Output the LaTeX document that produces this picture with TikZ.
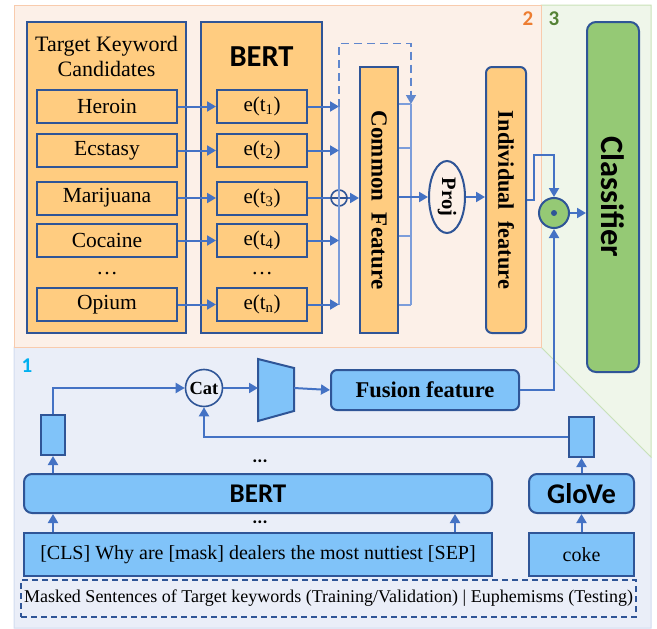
\documentclass[tikz,border=0pt]{standalone}
\usepackage{fontspec}
\setmainfont{Liberation Serif}
\newfontfamily\calibri{Carlito}
\usepackage{tikz}
\usetikzlibrary{calc}
\usetikzlibrary{arrows.meta, shapes}
\usetikzlibrary{positioning}

\definecolor{lineblue}{HTML}{4472C4}
\definecolor{darkblue}{HTML}{2F5597}
\definecolor{thinblue}{HTML}{7C9DDA}
\definecolor{boxorange}{HTML}{FFCC80}
\definecolor{boxblue}{HTML}{80C3F9}
\definecolor{boxgreen}{HTML}{95C975}
\definecolor{bgorange}{HTML}{FCF0E8}
\definecolor{edgeorange}{HTML}{F8CBAD}
\definecolor{bggreen}{HTML}{EFF6EA}
\definecolor{edgegreen}{HTML}{C9E2B8}
\definecolor{bgblue}{HTML}{EAEEF8}
\definecolor{edgeblue}{HTML}{D2DCF0}
\definecolor{numorange}{HTML}{ED7D31}
\definecolor{numgreen}{HTML}{548235}
\definecolor{numcyan}{HTML}{00B0F0}

\begin{document}
\begin{tikzpicture}[x=1pt, y=-1pt,
    every node/.style={font=\fontsize{21.5}{26}\selectfont, inner sep=0pt},
    obox/.style={draw=darkblue, line width=2pt, fill=boxorange},
    bbox/.style={draw=darkblue, line width=2pt, fill=boxblue},
    gbox/.style={draw=darkblue, line width=2pt, fill=boxgreen},
    arr/.style={draw=lineblue, line width=2pt, -{Triangle[length=9pt, width=10pt]}},
    plain/.style={draw=lineblue, line width=2pt},
    feed/.style={draw=thinblue, line width=1.3pt},
    sans/.style={font=\fontsize{#1}{#1}\selectfont\calibri\bfseries}]
    \def\kwx{107}; % keyword column x coordinate
    \def\embx{262}; % embedding column x coordinate
    \def\colx{339}; % collector line x coordinate
    \def\stubx{411}; % common feature stub x coordinate

    \useasboundingbox (0,0) rectangle (657,629);

    % regions %%%%%%%%%%%%%%%%%%%%%%%%%%%%%%%%%%%%%%%%%%%%%%%%%%%%%%%%%%%%%%%%%%%%%%%%%%%%%%%%%%%%%
    \filldraw[fill=bgblue, draw=edgeblue, line width=1pt] (14,347) -- (541,347) -- (651,457) -- (651,628) -- (14,628) -- cycle;
    \filldraw[fill=bggreen, draw=edgegreen, line width=1pt] (541,5) -- (651,5) -- (651,457) -- (541,347) -- cycle;
    \filldraw[fill=bgorange, draw=edgeorange, line width=1pt] (14,5) rectangle (541,347);
    \node[sans=21, text=numorange] (lab2) at (528,19) {2};
    \node[sans=21, text=numgreen] (lab3) at (554,19) {3};
    \node[sans=21, text=numcyan] (lab1) at (27,366) {1};

    % keyword candidates and top BERT %%%%%%%%%%%%%%%%%%%%%%%%%%%%%%%%%%%%%%%%%%%%%%%%%%%%%%%%%%%%%
    \node[obox, minimum width=159, minimum height=311] (tkc) at (106.5,177.5) {};
    \node[align=center, font=\fontsize{22}{25}\selectfont] (tkctitle) at (106.5,56) {Target Keyword\\Candidates};
    \node[obox, minimum width=121, minimum height=311] (bertt) at (261.5,177.5) {};
    \node[sans=30.5] (berttlabel) at (261.5,57) {BERT};
    \foreach \i/\y/\word/\sub in {1/106.5/Heroin/1, 2/150.5/Ecstasy/2, 3/198/Marijuana/3, 4/240.5/Cocaine/4, 5/304.5/Opium/n}{
      \node[obox, minimum width=140, minimum height=33] (kw\i) at (\kwx,\y) {\word};
      \node[obox, minimum width=90, minimum height=33, font=\fontsize{21}{21}\selectfont] (emb\i) at (\embx,\y) {e(t\textsubscript{\sub})};
      \draw[arr] (kw\i) -- (emb\i);
      \coordinate (col\i) at (\colx,\y);
    }
    \node (kwdots) at (\kwx,274) {\dots};
    \node (embdots) at (\embx,274) {\dots};

    % common feature %%%%%%%%%%%%%%%%%%%%%%%%%%%%%%%%%%%%%%%%%%%%%%%%%%%%%%%%%%%%%%%%%%%%%%%%%%%%%%
    \node[draw=darkblue, line width=1.6pt, circle, minimum size=16] (oplus) at (\colx,198) {};
    \draw[darkblue, line width=1.6pt] (oplus.north) -- (oplus.south) (oplus.west) -- (oplus.east);
    \draw[feed] (col1) -- (col5);
    \foreach \i in {1,2,4,5}{
      \draw[arr] (emb\i) -- (col\i);
    }
    \draw[plain] (emb3) -- (oplus);
    \node[obox, minimum width=38, minimum height=266] (comm) at (379,200) {};
    \node[rotate=-90, font=\fontsize{23}{23}\selectfont\bfseries] (commlabel) at (comm) {Common~~Feature};
    \draw[arr] (oplus) -- (oplus -| comm.west);
    \foreach \i/\y in {1/104, 2/148, 3/236, 4/305}{
      \coordinate (st\i) at (\stubx,\y);
      \draw[feed] (comm.east |- st\i) -- (st\i);
    }
    \draw[feed] (st1) -- (st4);
    \draw[arr, dash pattern=on 8pt off 5pt, draw=lineblue!85, line width=1.6pt] (col1) -- ++(0,-63) -| (st1);

    % projection and individual feature %%%%%%%%%%%%%%%%%%%%%%%%%%%%%%%%%%%%%%%%%%%%%%%%%%%%%%%%%%%
    \node[draw=darkblue, line width=2pt, fill=bgorange, ellipse, minimum width=36, minimum height=72] (proj) at (447,197) {};
    \node[rotate=-90, font=\fontsize{20.5}{20.5}\selectfont\bfseries] (projlabel) at (proj) {Proj};
    \draw[arr] (comm.east |- proj) -- (proj);
    \node[obox, rounded corners=6, minimum width=40, minimum height=266] (indiv) at (506,200) {};
    \node[rotate=-90, font=\fontsize{22.3}{22.3}\selectfont\bfseries] (indivlabel) at (indiv) {Individual~~feature};
    \draw[arr] (proj) -- (proj -| indiv.west);

    % classifier %%%%%%%%%%%%%%%%%%%%%%%%%%%%%%%%%%%%%%%%%%%%%%%%%%%%%%%%%%%%%%%%%%%%%%%%%%%%%%%%%%
    \node[gbox, circle, minimum size=30] (odot) at (554,213) {};
    \fill[darkblue] (odot) circle (3);
    \node[gbox, rounded corners=9, minimum width=52, minimum height=350] (cls) at (613,197) {};
    \node[rotate=-90, sans=32.5] (clslabel) at (cls) {Classifier};
    \draw[arr] (indiv.east) -- ++(7,0) -- ++(0,-45) -| (odot.north);
    \draw[arr] (odot) -- (odot -| cls.west);

    % fusion branch %%%%%%%%%%%%%%%%%%%%%%%%%%%%%%%%%%%%%%%%%%%%%%%%%%%%%%%%%%%%%%%%%%%%%%%%%%%%%%%
    \node[draw=darkblue, line width=1.6pt, circle, minimum size=37, font=\fontsize{18.5}{18.5}\selectfont\bfseries] (cat) at (204,388) {Cat};
    \filldraw[fill=boxblue, draw=darkblue, line width=2pt] (258,359) -- (294,368) -- (294,411) -- (258,421) -- cycle;
    \coordinate (trapin) at (258,388);
    \coordinate (trapout) at (294,388);
    \node[bbox, rounded corners=6, minimum width=188, minimum height=40, font=\fontsize{22.5}{22.5}\selectfont\bfseries] (fusion) at (425,390) {Fusion feature};
    \node[bbox, minimum width=24, minimum height=40] (vcls) at (53,435) {};
    \node[bbox, minimum width=25, minimum height=40] (vglove) at (581.5,437) {};
    \draw[arr] (vcls.north) |- (cat.west);
    \draw[arr] (vglove.west) -| (cat.south);
    \draw[arr] (cat.east) -- (trapin);
    \draw[arr] (trapout) -- (fusion.west);
    \draw[arr] (fusion.east) -| (odot.south);

    % encoders %%%%%%%%%%%%%%%%%%%%%%%%%%%%%%%%%%%%%%%%%%%%%%%%%%%%%%%%%%%%%%%%%%%%%%%%%%%%%%%%%%%%
    \node[bbox, rounded corners=8, minimum width=468, minimum height=39, sans=27] (bertb) at (258,493.5) {BERT};
    \node[bbox, minimum width=468, minimum height=43, font=\fontsize{20}{20}\selectfont] (sent) at (258,554.5) {[CLS] Why are [mask] dealers the most nuttiest [SEP]};
    \node[bbox, rounded corners=8, minimum width=105, minimum height=39, sans=28.5] (glove) at (581.5,493.5) {GloVe};
    \node[bbox, minimum width=105, minimum height=43, font=\fontsize{20}{20}\selectfont] (coke) at (581.5,554.5) {coke};
    \node[sans=19] (topdots) at (260,461) {...};
    \node[sans=19] (botdots) at (260,522) {...};
    \draw[arr] (bertb.north -| vcls) -- (vcls.south);
    \draw[arr] (sent.north -| vcls) -- (bertb.south -| vcls);
    \coordinate (sepin) at (455,0);
    \draw[arr] (sent.north -| sepin) -- (bertb.south -| sepin);
    \draw[arr] (coke) -- (glove);
    \draw[arr] (glove) -- (vglove);

    % input caption %%%%%%%%%%%%%%%%%%%%%%%%%%%%%%%%%%%%%%%%%%%%%%%%%%%%%%%%%%%%%%%%%%%%%%%%%%%%%%%
    \node[draw=darkblue, dash pattern=on 6pt off 4pt, line width=1.2pt, minimum width=615, minimum height=37, font=\fontsize{18}{18}\selectfont] (caption) at (328.5,598.5) {Masked Sentences of Target keywords (Training/Validation) | Euphemisms (Testing)};
\end{tikzpicture}
\end{document}
